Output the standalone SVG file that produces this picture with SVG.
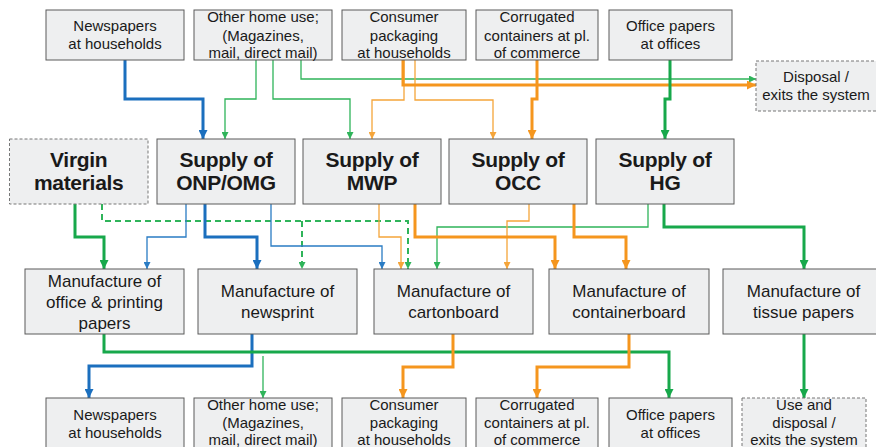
<svg xmlns="http://www.w3.org/2000/svg" width="876" height="447" viewBox="0 0 876 447">
<defs>
<style>
.box{fill:#eeeff0;stroke:#5a5a5a;stroke-width:1}
.dbox{fill:#eeeff0;stroke:#777;stroke-width:1;stroke-dasharray:3 2}
.t{font-family:"Liberation Sans",Arial,sans-serif;fill:#1a1a1a;text-anchor:middle}
.s{font-size:15px}
.m{font-size:17px}
.b{font-size:21px;font-weight:bold;letter-spacing:-0.3px}
.c{fill:none;stroke-linejoin:miter}
.bk{stroke:#1b6fbe;stroke-width:3}
.bn{stroke:#2a7cc4;stroke-width:1.3}
.gk{stroke:#17a84b;stroke-width:3}
.gn{stroke:#2fb45a;stroke-width:1.3}
.gd{stroke:#2fb45a;stroke-width:2;stroke-dasharray:6 4}
.ok{stroke:#f5961e;stroke-width:3}
.on{stroke:#f5a53a;stroke-width:1.3}
</style>
<marker id="aB" viewBox="0 0 10 10" refX="10" refY="5" markerWidth="10" markerHeight="9" markerUnits="userSpaceOnUse" orient="auto"><path d="M0,0L10,5L0,10z" fill="#1b6fbe"/></marker>
<marker id="ab" viewBox="0 0 10 10" refX="10" refY="5" markerWidth="8" markerHeight="7" markerUnits="userSpaceOnUse" orient="auto"><path d="M0,0L10,5L0,10z" fill="#2a7cc4"/></marker>
<marker id="aG" viewBox="0 0 10 10" refX="10" refY="5" markerWidth="10" markerHeight="9" markerUnits="userSpaceOnUse" orient="auto"><path d="M0,0L10,5L0,10z" fill="#17a84b"/></marker>
<marker id="ag" viewBox="0 0 10 10" refX="10" refY="5" markerWidth="8" markerHeight="7" markerUnits="userSpaceOnUse" orient="auto"><path d="M0,0L10,5L0,10z" fill="#2fb45a"/></marker>
<marker id="aO" viewBox="0 0 10 10" refX="10" refY="5" markerWidth="10" markerHeight="9" markerUnits="userSpaceOnUse" orient="auto"><path d="M0,0L10,5L0,10z" fill="#f5961e"/></marker>
<marker id="ao" viewBox="0 0 10 10" refX="10" refY="5" markerWidth="8" markerHeight="7" markerUnits="userSpaceOnUse" orient="auto"><path d="M0,0L10,5L0,10z" fill="#f5a53a"/></marker>
</defs>
<rect width="876" height="447" fill="#ffffff"/>

<g id="connectors">
<path class="c bk" marker-end="url(#aB)" d="M125,60V99H203V139"/>
<path class="c gn" marker-end="url(#ag)" d="M256,60V99H225V139"/>
<path class="c gn" marker-end="url(#ag)" d="M273,60V99H350V139"/>
<path class="c gn" marker-end="url(#ag)" d="M301,60V79H756"/>
<path class="c on" marker-end="url(#ao)" d="M404,60V100H372V139"/>
<path class="c on" marker-end="url(#ao)" d="M415,60V100H493V139"/>
<path class="c ok" marker-end="url(#aO)" d="M403,60V85H756"/>
<path class="c ok" marker-end="url(#aO)" d="M537,60V99H532V139"/>
<path class="c gk" marker-end="url(#aG)" d="M670,60V99H665V139"/>

<path class="c gd" marker-end="url(#ag)" d="M102,204V221H408V269"/>
<path class="c gd" marker-end="url(#ag)" d="M302,221V269"/>
<path class="c gk" marker-end="url(#aG)" d="M75,204V237H104V269"/>
<path class="c bn" marker-end="url(#ab)" d="M186,204V237H147V269"/>
<path class="c bk" marker-end="url(#aB)" d="M205,204V237H257V269"/>
<path class="c bn" marker-end="url(#ab)" d="M271,204V246H382V269"/>
<path class="c on" marker-end="url(#ao)" d="M379,204V237H401V269"/>
<path class="c gn" marker-end="url(#ag)" d="M648,204V227H437V269"/>
<path class="c on" marker-end="url(#ao)" d="M529,204V221H507V269"/>
<path class="c ok" marker-end="url(#aO)" d="M415,204V237H555V269"/>
<path class="c ok" marker-end="url(#aO)" d="M574,204V237H626V269"/>
<path class="c gk" marker-end="url(#aG)" d="M664,204V227H804V269"/>

<path class="c bk" marker-end="url(#aB)" d="M252,334V366H89V398"/>
<path class="c gk" marker-end="url(#aG)" d="M104,334V352H669V398"/>
<path class="c gn" marker-end="url(#ag)" d="M263,356V398"/>
<path class="c ok" marker-end="url(#aO)" d="M453,334V367H403V398"/>
<path class="c ok" marker-end="url(#aO)" d="M629,334V367H537V398"/>
<path class="c gk" marker-end="url(#aG)" d="M804,334V398"/>
</g>

<g id="top-newspapers"><rect class="box" x="46" y="10" width="138" height="50"/><text class="t s" x="115" y="31">Newspapers</text><text class="t s" x="115" y="49">at households</text></g>
<g id="top-otherhome"><rect class="box" x="194" y="10" width="138" height="50"/><text class="t s" x="263" y="22">Other home use;</text><text class="t s" x="263" y="40.5">(Magazines,</text><text class="t s" x="263" y="58">mail, direct mail)</text></g>
<g id="top-consumer"><rect class="box" x="342" y="10" width="124" height="50"/><text class="t s" x="404" y="22">Consumer</text><text class="t s" x="404" y="40.5">packaging</text><text class="t s" x="404" y="58">at households</text></g>
<g id="top-corrugated"><rect class="box" x="476" y="10" width="122" height="50"/><text class="t s" x="537" y="22">Corrugated</text><text class="t s" x="537" y="40.5">containers at pl.</text><text class="t s" x="537" y="58">of commerce</text></g>
<g id="top-office"><rect class="box" x="609" y="10" width="123" height="50"/><text class="t s" x="670.5" y="31">Office papers</text><text class="t s" x="670.5" y="49">at offices</text></g>
<g id="disposal"><rect class="dbox" x="756" y="61" width="125" height="50"/><text class="t s" x="816" y="82">Disposal /</text><text class="t s" x="816" y="100">exits the system</text></g>

<g id="virgin"><rect class="dbox" x="9.5" y="139" width="138.5" height="65"/><text class="t b" x="78.7" y="167">Virgin</text><text class="t b" x="78.7" y="190">materials</text></g>
<g id="supply-onp"><rect class="box" x="157" y="139" width="138" height="65"/><text class="t b" x="226" y="167">Supply of</text><text class="t b" x="226" y="190">ONP/OMG</text></g>
<g id="supply-mwp"><rect class="box" x="303" y="139" width="138" height="65"/><text class="t b" x="372" y="167">Supply of</text><text class="t b" x="372" y="190">MWP</text></g>
<g id="supply-occ"><rect class="box" x="449" y="139" width="138" height="65"/><text class="t b" x="518" y="167">Supply of</text><text class="t b" x="518" y="190">OCC</text></g>
<g id="supply-hg"><rect class="box" x="596" y="139" width="138" height="65"/><text class="t b" x="665" y="167">Supply of</text><text class="t b" x="665" y="190">HG</text></g>

<g id="mfg-office"><rect class="box" x="25" y="269" width="159" height="65"/><text class="t m" x="104.5" y="287">Manufacture of</text><text class="t m" x="104.5" y="308">office &amp; printing</text><text class="t m" x="104.5" y="329">papers</text></g>
<g id="mfg-newsprint"><rect class="box" x="198" y="269" width="159" height="65"/><text class="t m" x="277.5" y="297">Manufacture of</text><text class="t m" x="277.5" y="318">newsprint</text></g>
<g id="mfg-carton"><rect class="box" x="374" y="269" width="159" height="65"/><text class="t m" x="453.5" y="297">Manufacture of</text><text class="t m" x="453.5" y="318">cartonboard</text></g>
<g id="mfg-container"><rect class="box" x="549" y="269" width="160" height="65"/><text class="t m" x="629" y="297">Manufacture of</text><text class="t m" x="629" y="318">containerboard</text></g>
<g id="mfg-tissue"><rect class="box" x="723" y="269" width="160" height="65"/><text class="t m" x="803.5" y="297">Manufacture of</text><text class="t m" x="803.5" y="318">tissue papers</text></g>

<g id="bot-newspapers"><rect class="box" x="46" y="398" width="138" height="55"/><text class="t s" x="115" y="419.5">Newspapers</text><text class="t s" x="115" y="438">at households</text></g>
<g id="bot-otherhome"><rect class="box" x="194" y="398" width="138" height="55"/><text class="t s" x="263" y="410">Other home use;</text><text class="t s" x="263" y="428">(Magazines,</text><text class="t s" x="263" y="444.5">mail, direct mail)</text></g>
<g id="bot-consumer"><rect class="box" x="342" y="398" width="124" height="55"/><text class="t s" x="404" y="410">Consumer</text><text class="t s" x="404" y="428">packaging</text><text class="t s" x="404" y="444.5">at households</text></g>
<g id="bot-corrugated"><rect class="box" x="476" y="398" width="122" height="55"/><text class="t s" x="537" y="410">Corrugated</text><text class="t s" x="537" y="428">containers at pl.</text><text class="t s" x="537" y="444.5">of commerce</text></g>
<g id="bot-office"><rect class="box" x="609" y="398" width="123" height="55"/><text class="t s" x="670.5" y="420">Office papers</text><text class="t s" x="670.5" y="438">at offices</text></g>
<g id="bot-use"><rect class="dbox" x="742" y="398" width="124" height="55"/><text class="t s" x="804" y="410">Use and</text><text class="t s" x="804" y="428">disposal /</text><text class="t s" x="804" y="444.5">exits the system</text></g>
</svg>
